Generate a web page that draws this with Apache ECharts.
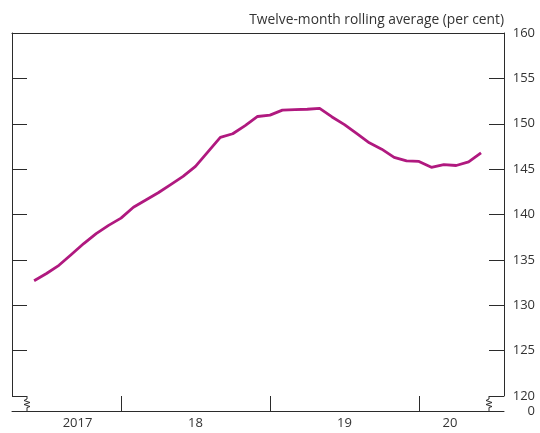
<!DOCTYPE html>
<html>
<head>
<meta charset="utf-8">
<script src="https://cdn.jsdelivr.net/npm/echarts@6/dist/echarts.min.js"></script>
<style>
html,body{margin:0;padding:0;background:#fff;}
#chart{width:540px;height:433px;}
</style>
</head>
<body>
<div id="chart"></div>
<script>
// Months (YYYY-MM) and twelve-month rolling average values (per cent)
const months = [
  '2017-06','2017-07','2017-08','2017-09','2017-10','2017-11','2017-12',
  '2018-01','2018-02','2018-03','2018-04','2018-05','2018-06','2018-07','2018-08','2018-09','2018-10','2018-11','2018-12',
  '2019-01','2019-02','2019-03','2019-04','2019-05','2019-06','2019-07','2019-08','2019-09','2019-10','2019-11','2019-12',
  '2020-01','2020-02','2020-03','2020-04','2020-05','2020-06'
];
const values = [
  132.7, 133.5, 134.4, 135.6, 136.8, 137.9, 138.8,
  139.6, 140.8, 141.6, 142.4, 143.3, 144.2, 145.3, 146.9, 148.5, 148.9, 149.8, 150.8,
  150.95, 151.5, 151.55, 151.6, 151.7, 150.75, 149.9, 148.9, 147.9, 147.2, 146.3, 145.9,
  145.85, 145.2, 145.5, 145.4, 145.8, 146.8
];
// x-axis labels (year names) and the month position (months since Jan 2017) where each sits
const yearLabels = ['2017', '18', '19', '20'];
const yearLabelPos = [8.5, 18, 30, 38.5];
const yearTicks = [12, 24, 36];
const yTicks = ['120','125','130','135','140','145','150','155','160'];

const xMin = 3.22, xMax = 42.85;
function monthIndex(s){ const p = s.split('-'); return (+p[0]-2017)*12 + (+p[1]-1); }
const data = months.map((m,i)=>[monthIndex(m), values[i]]);

const FONT = 'Open Sans';
const TXT = '#333333';
const AX = '#2b2b2b';

const chart = echarts.init(document.getElementById('chart'), null, {renderer:'canvas'});
const zig = x => ({
  type:'polyline', silent:true,
  shape:{points:[[x,396],[x,399],[x-3,400.5],[x+3,402.5],[x-3,404.5],[x+3,406.5],[x,407.5],[x,411]]},
  style:{stroke:AX, lineWidth:1, fill:null}
});
chart.setOption({
  animation:false,
  backgroundColor:'#ffffff',
  grid:[
    {left:12, right:36, top:33, bottom:37},
    {left:12, right:36, top:396, bottom:22}
  ],
  xAxis:[
    {gridIndex:0, type:'value', position:'top', min:xMin, max:xMax,
     axisLine:{show:true, lineStyle:{color:AX, width:1}}, axisTick:{show:false}, axisLabel:{show:false}, splitLine:{show:false}},
    {gridIndex:1, type:'value', position:'bottom', min:xMin, max:xMax,
     axisLine:{show:true, lineStyle:{color:AX, width:1}},
     axisTick:{show:true, inside:true, length:15, customValues:yearTicks, lineStyle:{color:AX, width:1}},
     axisLabel:{show:true, customValues:yearLabelPos, margin:6, color:TXT, fontFamily:FONT, fontSize:13,
       formatter:v=>{const i=yearLabelPos.indexOf(v); return i>=0?yearLabels[i]:'';}},
     splitLine:{show:false}}
  ],
  yAxis:[
    {gridIndex:0, type:'value', position:'right', min:120, max:160, interval:5,
     name:'Twelve-month rolling average (per cent)', nameLocation:'end', nameGap:6,
     nameTextStyle:{align:'right', verticalAlign:'bottom', color:TXT, fontFamily:FONT, fontSize:13.8},
     axisLine:{show:true, lineStyle:{color:AX, width:1}},
     axisTick:{show:true, inside:true, length:15, lineStyle:{color:AX, width:1}},
     axisLabel:{show:true, inside:false, margin:31, align:'right', color:TXT, fontFamily:FONT, fontSize:13,
       showMinLabel:true, showMaxLabel:true, formatter:v=>yTicks[Math.round((v-120)/5)]},
     splitLine:{show:false}},
    {gridIndex:0, type:'value', position:'left', min:120, max:160, interval:5,
     axisLine:{show:true, lineStyle:{color:AX, width:1}},
     axisTick:{show:true, inside:true, length:15, lineStyle:{color:AX, width:1}},
     axisLabel:{show:false}, splitLine:{show:false}},
    {gridIndex:1, type:'value', position:'right', min:0, max:1,
     axisLine:{show:false}, axisTick:{show:false}, splitLine:{show:false},
     axisLabel:{show:true, customValues:[0], margin:31, align:'right', color:TXT, fontFamily:FONT, fontSize:13,
       formatter:()=> '0'}}
  ],
  series:[
    {type:'line', xAxisIndex:0, yAxisIndex:0, data:data, symbol:'none', smooth:false,
     lineStyle:{color:'#b0197f', width:2.8}, z:5}
  ],
  graphic:[zig(27), zig(489)]
});
</script>
</body>
</html>
